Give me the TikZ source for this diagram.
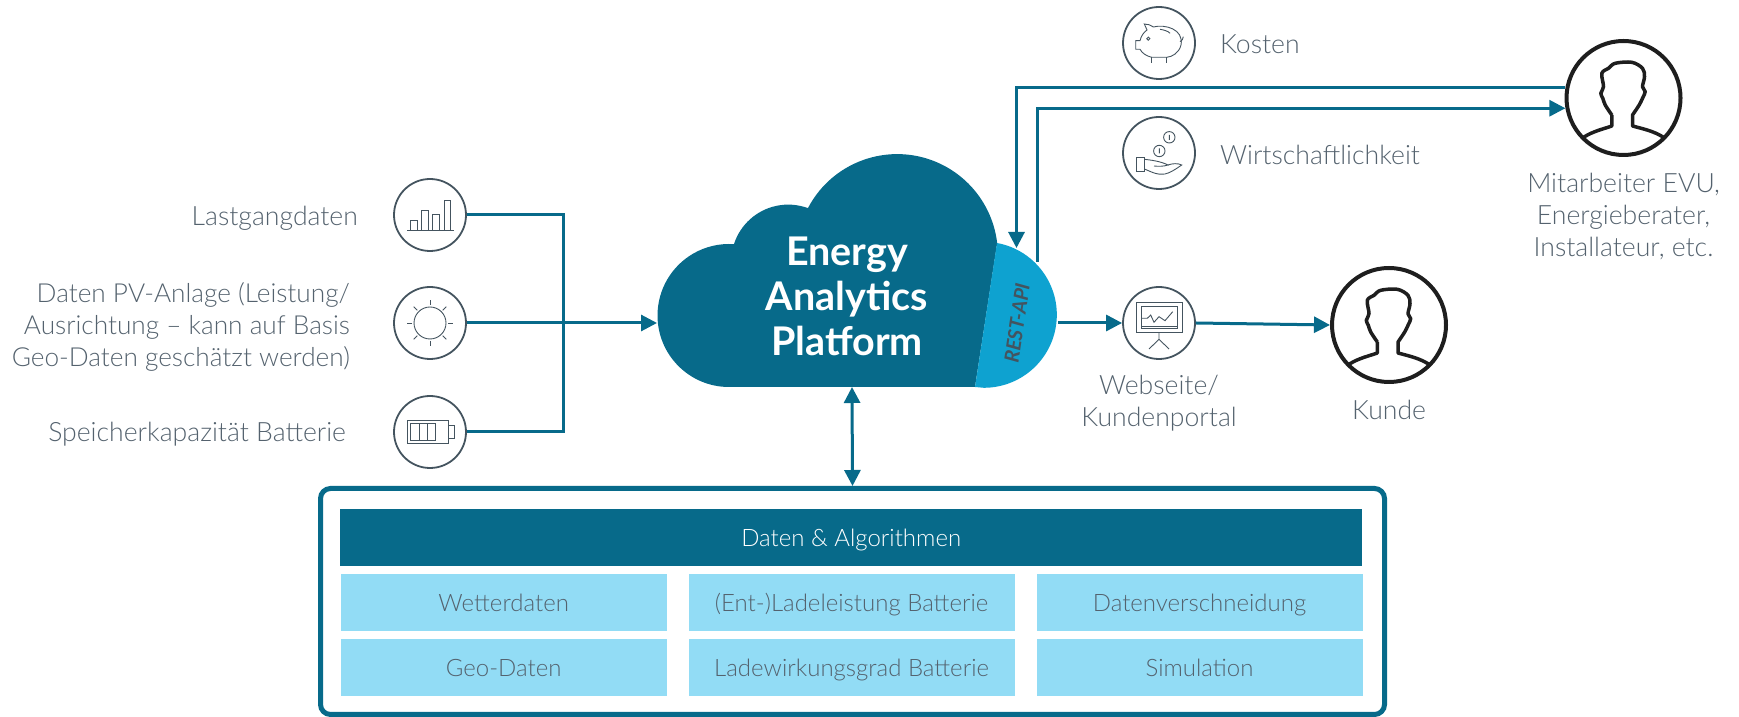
\documentclass[tikz,border=0pt]{standalone}
\usepackage{fontspec}
\setmainfont{Lato}[UprightFont={* Light},BoldFont={* Bold},BoldItalicFont={* Bold Italic}]
\usetikzlibrary{arrows.meta,positioning}

\definecolor{petrol}{HTML}{076A8A}
\definecolor{restblue}{HTML}{0EA2D0}
\definecolor{skyfill}{HTML}{92DCF5}
\definecolor{slatetext}{HTML}{54626E}
\definecolor{iconline}{HTML}{44545F}
\definecolor{userline}{HTML}{1E1E1E}

\tikzset{
  pics/silhouette/.style={code={
    \draw[userline,line width=3.5pt,line join=round]
      (-40,-39.3) .. controls (-30,-33) and (-20,-31) .. (-11.7,-28) -- (-11.7,-17)
      plot[smooth,tension=.55] coordinates {(-11.7,-17) (-18.3,-7) (-20.7,-.3) (-22.7,4.7) (-20,11.3) (-21.7,24.7) (-15,29.7) (-8.3,34.7) (8.3,35.7) (19,29.7) (21,21.3) (19,11.3) (21.7,6.3) (19,-.3) (15.7,-7) (9,-17)}
      -- (9,-28) .. controls (20,-31) and (30,-33) .. (40,-39.3);
  }}
}

\begin{document}
\begin{tikzpicture}[x=1pt,y=1pt,>={Triangle[length=16pt,width=16pt]},node distance=8pt]
    % Styles
    \tikzstyle{every node}=[inner sep=0pt]
    \tikzstyle{icon}=[circle,draw=iconline,line width=1.8pt,minimum size=72pt]
    \tikzstyle{user}=[circle,draw=userline,line width=4pt,minimum size=114pt]
    \tikzstyle{label}=[text=slatetext,font=\fontsize{26.6}{32}\selectfont]
    \tikzstyle{flow}=[draw=petrol,line width=3pt]
    \tikzstyle{glyph}=[draw=iconline,line width=.9pt]
    \tikzstyle{cell}=[fill=skyfill,minimum width=326pt,minimum height=57pt,text height=24pt,text depth=6pt,text=slatetext,font=\fontsize{24}{28}\selectfont]

    \useasboundingbox (0,0) rectangle (1739,717);

    % Cloud
    \fill[petrol] (729,330) arc[start angle=270,end angle=86,radius=71.5]
        -- (734,473) arc[start angle=162,end angle=70,radius=57]
        -- (808,509) arc[start angle=152.3,end angle=6.7,radius=100.7]
        -- (975,330) -- cycle;
    \fill[restblue] (997,474) arc[start angle=79.6,end angle=-90,radius=73]
        -- (975,330) -- cycle;
    \node[text=white,align=center,font=\fontsize{39.5}{45}\selectfont\bfseries] (platform) at (847,421) {Energy\\Analytics\\Platform};
    \node[rotate=81.5,text=iconline,font=\fontsize{20}{22}\selectfont\bfseries\itshape] (rest) at (1017,394) {REST-API};
    \coordinate (cloudin) at (657,394);
    \coordinate (cloudout) at (1058,394);
    \coordinate (clouddown) at (852,330);
    \coordinate (restin) at (1016.5,469);
    \coordinate (restout) at (1037,455);

    % Input icons and labels
    \node[icon] (last) at (430,502) {};
    \node[icon] (pv)   at (430,394) {};
    \node[icon] (batt) at (430,285) {};
    \node[label,left=35pt of last,yshift=-3pt] (lastlabel) {Lastgangdaten};
    \node[label,left=43pt of pv,yshift=-4pt,align=right,font=\fontsize{26.2}{32}\selectfont] (pvlabel) {Daten PV-Anlage (Leistung/\\Ausrichtung -- kann auf Basis\\Geo-Daten geschätzt werden)};
    \node[label,left=47pt of batt,yshift=-2pt] (battlabel) {Speicherkapazität Batterie};
    \coordinate (merge) at (563,394);

    % Output icons and users
    \node[icon] (kosten) at (1159,674) {};
    \node[icon] (wirt)   at (1159,564) {};
    \node[icon] (web)    at (1159,394) {};
    \node[user] (staff)  at (1623.5,619) {};
    \node[user] (kunde)  at (1389,392) {};
    \node[label,right=24pt of kosten,yshift=-1pt] (kostenlabel) {Kosten};
    \node[label,right=24pt of wirt,yshift=-2pt] (wirtlabel) {Wirtschaftlichkeit};
    \node[label,below=15pt of web,align=center] (weblabel) {Webseite/\\Kundenportal};
    \node[label,below=16pt of kunde] (kundelabel) {Kunde};
    \node[label,below=16pt of staff,align=center] (stafflabel) {Mitarbeiter EVU,\\Energieberater,\\Installateur, etc.};
    \pic at (staff) {silhouette};
    \pic at (kunde) {silhouette};

    % Data box
    \node[draw=petrol,line width=5pt,rounded corners=10pt,minimum width=1064pt,minimum height=226pt] (store) at (852.5,115.5) {};
    \node[fill=petrol,minimum width=1022pt,minimum height=57pt,text height=24pt,text depth=6pt,text=white,font=\fontsize{24}{28}\selectfont] (head) at (851.2,179.5) {Daten \& Algorithmen};
    \node[cell] (wetter) at (503.7,114.5) {Wetterdaten};
    \node[cell,below=8pt of wetter] (geo) {Geo-Daten};
    \node[cell,right=21.5pt of wetter] (lade) {(Ent-)Ladeleistung Batterie};
    \node[cell,below=8pt of lade] (grad) {Ladewirkungsgrad Batterie};
    \node[cell,right=21.5pt of lade] (misch) {Datenverschneidung};
    \node[cell,below=8pt of misch] (sim) {Simulation};

    % Connectors
    \draw[flow] (last.east) -| (merge);
    \draw[flow] (batt.east) -| (merge);
    \draw[flow,->] (pv.east) -- (cloudin);
    \draw[flow,->] (cloudout) -- (web.west);
    \draw[flow,->] (web.east) -- (kunde.west);
    \draw[flow,->] (staff.170) -| (restin);
    \draw[flow,->] (restout) |- (staff.190);
    \draw[flow,<->] (clouddown) -- (store.north);

    % Icon glyphs
    \draw[glyph] (407.4,486.7) -- (453.7,486.7)
        (410.4,486.7) rectangle (417.5,496.3)
        (421.7,486.7) rectangle (428.5,507)
        (432.7,486.7) rectangle (439.4,502.7)
        (444,486.7) rectangle (450.8,516.3);
    \draw[glyph] (pv.center) circle[radius=16];
    \foreach \a in {0,45,...,315}
        \draw[glyph] (pv.center) ++(\a:18) -- ++(\a:5);
    \draw[glyph] (407.4,274) rectangle (448,297)
        (448,292) -- (454.5,292) -- (454.5,279) -- (448,279)
        (410.4,277) rectangle (435.6,294)
        (419,277) -- (419,294) (427,277) -- (427,294);
    % Piggy bank
    \draw[glyph] (1144.3,693) .. controls (1148,693) and (1150,692) .. (1153.3,690)
        .. controls (1165,693) and (1184,688) .. (1181,672)
        .. controls (1179,664) and (1172,660) .. (1166.7,659.7)
        -- (1151.7,659.7) .. controls (1146,661) and (1142,664) .. (1140,667.7)
        -- (1135.7,667.7) -- (1135.7,676.3) -- (1140,676.3)
        .. controls (1141,681) and (1144,685) .. (1147,687) -- cycle;
    \draw[glyph] (1151.7,659.7) -- (1151.7,654.3) (1166.7,659.7) -- (1166.7,654.3);
    \draw[glyph] (1160,687.7) .. controls (1164,687) and (1168,686) .. (1170,683.7);
    \draw[glyph] (1180,675.3) .. controls (1182,676) and (1183,678) .. (1183.3,680.3);
    \draw[glyph] (1148.3,678.3) circle[radius=1.6];
    % Coins in hand
    \draw[glyph] (1169.3,579.7) circle[radius=5.7] (1169.3,577.2) -- (1169.3,582.2);
    \draw[glyph] (1159.3,566) circle[radius=5.7] (1159.3,563.5) -- (1159.3,568.5);
    \draw[glyph] (1136,546) rectangle (1144.3,559.3);
    \draw[glyph] (1144.3,557.7) .. controls (1150,557) and (1160,556) .. (1168,552)
        .. controls (1164,550.5) and (1158,550.5) .. (1154,551);
    \draw[glyph] (1168,552) .. controls (1172,553.5) and (1178,554) .. (1181.7,552)
        .. controls (1176,548) and (1170,544) .. (1165,543)
        .. controls (1160,542.5) and (1157,543) .. (1155,543.7)
        .. controls (1151,545) and (1147,547) .. (1144.3,548);
    % Presentation board
    \draw[glyph] (1136,384.7) rectangle (1182.7,414.3)
        (1141,388.7) rectangle (1177.7,410.3) (1141,391) -- (1177.7,391);
    \draw[glyph] (1141.7,398.7) -- (1147.3,398.7) -- (1150.7,402) -- (1154,394.7) -- (1159,400.3) -- (1165,396.3) -- (1172.7,405.3);
    \draw[glyph] (1159,384.7) -- (1159,377.7) -- (1149,368) (1159,377.7) -- (1169,368);
\end{tikzpicture}
\end{document}
